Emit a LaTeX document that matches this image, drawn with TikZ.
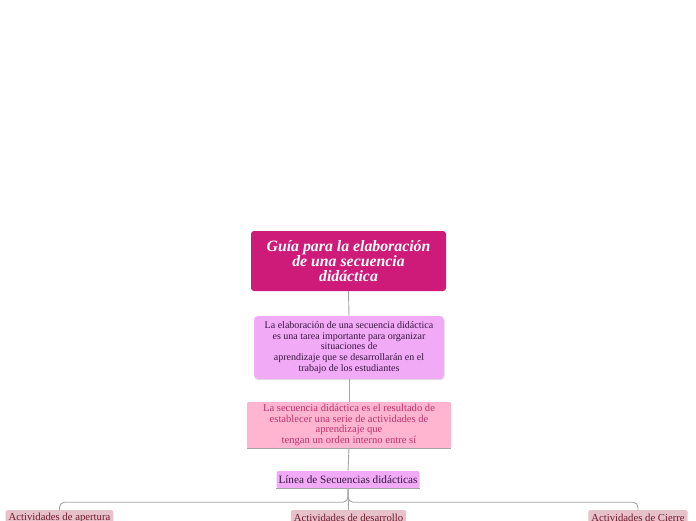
\documentclass[tikz,border=0pt]{standalone}
\usepackage{fontspec}
\setmainfont{Liberation Serif}
\usetikzlibrary{shadows}

\definecolor{magentaGuia}{HTML}{CE1A79}
\definecolor{violetaNota}{HTML}{F0AAF6}
\definecolor{rosaResultado}{HTML}{FFB5CF}
\definecolor{rosaActividad}{HTML}{E8C2CB}
\definecolor{tintaOscura}{HTML}{3B1442}
\definecolor{tintaRosa}{HTML}{BC3470}
\definecolor{tintaGranate}{HTML}{6E1A2C}
\definecolor{grisLinea}{HTML}{A3A3A3}

\begin{document}
\begin{tikzpicture}[
    x=1pt,y=-1pt,
    caja/.style={align=center,inner sep=2pt,font=\fontsize{10}{10.7}\selectfont},
    titulo/.style={caja,rounded corners=3pt,fill=magentaGuia,text=white,
      font=\bfseries\itshape\fontsize{15.8}{15}\selectfont,
      minimum width=195pt,minimum height=60pt},
    nota/.style={caja,rounded corners=4pt,fill=violetaNota,text=tintaOscura,
      minimum width=190pt,minimum height=63pt,
      drop shadow={opacity=0.25,shadow xshift=0.6pt,shadow yshift=-1.2pt}},
    resultado/.style={caja,rounded corners=1pt,fill=rosaResultado,text=tintaRosa,
      font=\fontsize{10.6}{10.7}\selectfont,
      minimum width=204pt,minimum height=46pt},
    secuencia/.style={caja,rounded corners=1.5pt,fill=violetaNota,text=tintaOscura,
      font=\fontsize{11.2}{12}\selectfont,
      minimum width=142pt,minimum height=17pt},
    actividad/.style={caja,rounded corners=2pt,fill=rosaActividad,text=tintaGranate,
      font=\fontsize{10.7}{12}\selectfont,
      anchor=north,minimum height=16pt,inner xsep=3pt},
    conector/.style={draw=grisLinea,line width=0.9pt}]

  \useasboundingbox (0,0) rectangle (696,520);
  \clip (0,0) rectangle (696,520);

  % ---- cadena central -------------------------------------------------------
  \node[titulo] (guia) at (348.5,261)
    {Guía para la elaboración\\ de una secuencia\\ didáctica};
  \node[nota] (elaboracion) at (349,347.5)
    {La elaboración de una secuencia didáctica\\
     es una tarea importante para organizar\\
     situaciones de\\
     aprendizaje que se desarrollarán en el\\
     trabajo de los estudiantes};
  \node[resultado] (resultado) at (349,425)
    {La secuencia didáctica es el resultado de\\
     establecer una serie de actividades de\\
     aprendizaje que\\
     tengan un orden interno entre sí};
  \node[secuencia] (linea) at (348,479.5) {Línea de Secuencias didácticas};

  % ---- actividades ----------------------------------------------------------
  \node[actividad] (apertura)   at (59.5,510) {Actividades de apertura};
  \node[actividad] (desarrollo) at (348.5,510) {Actividades de desarrollo};
  \node[actividad] (cierre)     at (638,510) {Actividades de Cierre};

  % ---- conectores -----------------------------------------------------------
  \draw[conector] (guia.south) -- (elaboracion.north);
  \draw[conector] (elaboracion.south) -- (resultado.north);
  \draw[conector] (resultado.south west) -- (resultado.south east);
  \draw[conector] (resultado.south) -- (linea.north);
  \draw[conector] (linea.south west) -- (linea.south east);
  \draw[conector] (linea.south) -- (desarrollo.north);
  \draw[conector,rounded corners=5pt] (linea.south) -- ++(0,14) -| (apertura.north);
  \draw[conector,rounded corners=5pt] (linea.south) -- ++(0,14) -| (cierre.north);

\end{tikzpicture}
\end{document}
